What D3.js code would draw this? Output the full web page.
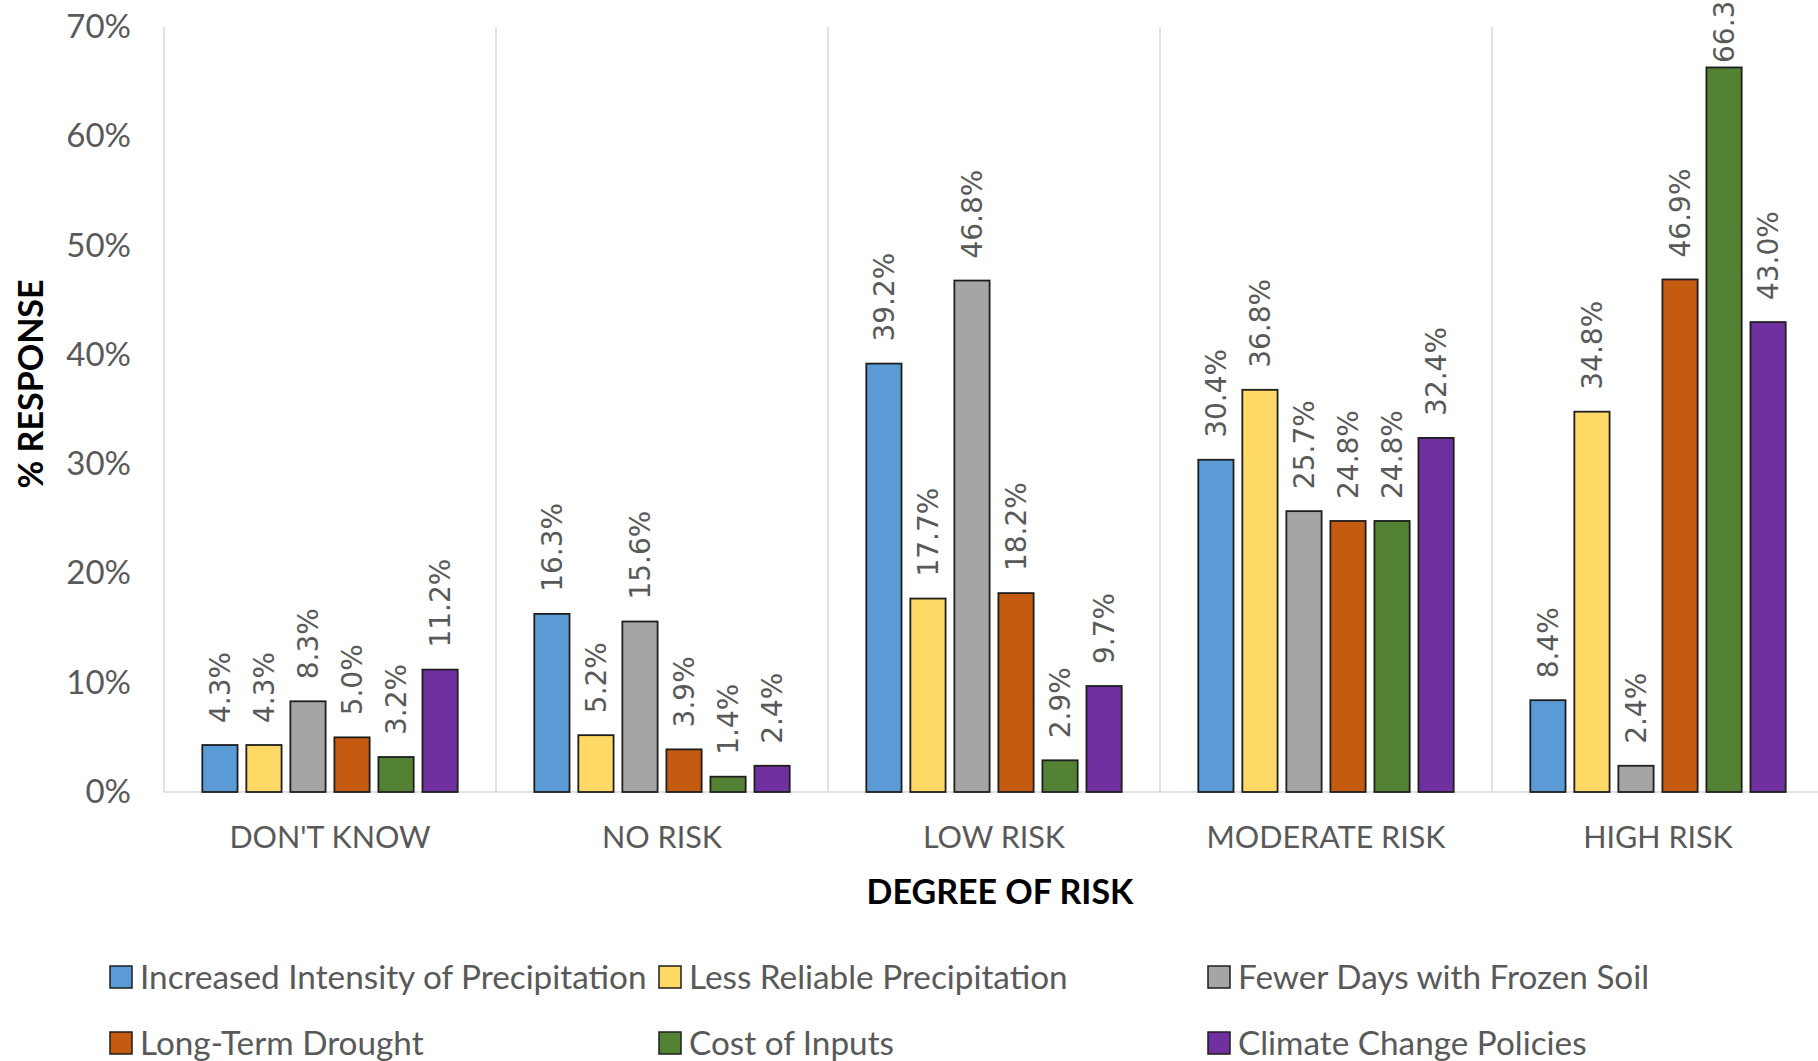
<!DOCTYPE html>
<html>
<head>
<meta charset="utf-8">
<script src="https://cdn.jsdelivr.net/npm/d3@7"></script>
<style>
  html, body { margin: 0; padding: 0; background: #fff; }
  svg { display: block; }
</style>
</head>
<body>
<svg id="chart" width="1818" height="1061"></svg>
<script>
// Categories along the x axis
const categories = ["DON'T KNOW", "NO RISK", "LOW RISK", "MODERATE RISK", "HIGH RISK"];

// Series names (legend order) and colours
const seriesNames = [
  "Increased Intensity of Precipitation",
  "Less Reliable Precipitation",
  "Fewer Days with Frozen Soil",
  "Long-Term Drought",
  "Cost of Inputs",
  "Climate Change Policies"
];
const seriesColors = ["#5B9BD5", "#FFD966", "#A5A5A5", "#C55A11", "#548235", "#7030A0"];

// % response per series, one value per category
const increasedIntensity = [4.3, 16.3, 39.2, 30.4, 8.4];
const lessReliable       = [4.3, 5.2, 17.7, 36.8, 34.8];
const fewerFrozenDays    = [8.3, 15.6, 46.8, 25.7, 2.4];
const longTermDrought    = [5.0, 3.9, 18.2, 24.8, 46.9];
const costOfInputs       = [3.2, 1.4, 2.9, 24.8, 66.3];
const climatePolicies    = [11.2, 2.4, 9.7, 32.4, 43.0];
const seriesValues = [increasedIntensity, lessReliable, fewerFrozenDays, longTermDrought, costOfInputs, climatePolicies];

// Y axis ticks
const yTicks = [0, 10, 20, 30, 40, 50, 60, 70];

const svg = d3.select("#chart");
const textFont = "Lato, 'Open Sans', sans-serif";
const labelFont = "'DejaVu Sans', Verdana, sans-serif";
const grey = "#595959";

const plot = { left: 164, right: 1824, top: 27, bottom: 792 };

const x0 = d3.scaleBand().domain(categories).range([plot.left, plot.right]).padding(0);
const x1 = d3.scaleBand().domain(seriesNames).range([0, x0.bandwidth()])
  .paddingInner(0.2).paddingOuter(0.87);
const y = d3.scaleLinear().domain([0, 70]).range([plot.bottom, plot.top]);

// Category separators (vertical lines spanning the plot)
const sepX = categories.map(c => x0(c)).concat([plot.right]);
svg.append("g").selectAll("line").data(sepX).join("line")
  .attr("x1", d => d).attr("x2", d => d)
  .attr("y1", y(70)).attr("y2", y(0))
  .attr("stroke", "#D9D9D9").attr("stroke-width", 1.5);

// Baseline
svg.append("line")
  .attr("x1", plot.left).attr("x2", plot.right)
  .attr("y1", y(0)).attr("y2", y(0))
  .attr("stroke", "#D9D9D9").attr("stroke-width", 1.5);

// Y axis tick labels
const yAxis = d3.axisLeft(y).tickValues(yTicks).tickFormat(d => d + "%").tickSize(0).tickPadding(0);
const yg = svg.append("g").attr("transform", "translate(131,0)").call(yAxis);
yg.select(".domain").remove();
yg.selectAll("text")
  .attr("fill", grey).style("font-family", textFont).style("font-size", "33px");

// X axis category labels
const xAxis = d3.axisBottom(x0).tickSize(0).tickPadding(0);
const xg = svg.append("g").attr("transform", "translate(0,837)").call(xAxis);
xg.select(".domain").remove();
xg.selectAll("text")
  .attr("dy", "0.35em")
  .attr("fill", grey).style("font-family", textFont).style("font-size", "30.5px");

// Bars and value labels
const cells = [];
seriesValues.forEach((vals, si) => {
  vals.forEach((v, ci) => cells.push({ series: seriesNames[si], color: seriesColors[si], cat: categories[ci], value: v }));
});

const barG = svg.append("g");
barG.selectAll("rect").data(cells).join("rect")
  .attr("x", d => x0(d.cat) + x1(d.series))
  .attr("y", d => y(d.value))
  .attr("width", x1.bandwidth())
  .attr("height", d => y(0) - y(d.value))
  .attr("fill", d => d.color)
  .attr("stroke", "#1e1e1e").attr("stroke-width", 1.8);

// Value labels sit above each bar, rotated; kept from running past the chart top
const labelGap = 22;
const labelTopLimit = -26;
const labels = svg.append("g").selectAll("text").data(cells).join("text")
  .text(d => d.value.toFixed(1) + "%")
  .attr("fill", grey)
  .style("font-family", labelFont).style("font-size", "28px")
  .attr("text-anchor", "start")
  .attr("dy", "0.36em");
labels.each(function(d) {
  const len = this.getComputedTextLength();
  const cx = x0(d.cat) + x1(d.series) + x1.bandwidth() / 2;
  const bottom = Math.max(y(d.value) - labelGap, labelTopLimit + len);
  d3.select(this).attr("transform", `translate(${cx},${bottom}) rotate(-90)`);
});

// Axis titles
svg.append("text")
  .attr("x", 1000).attr("y", 892).attr("dy", "0.35em")
  .attr("text-anchor", "middle")
  .style("font-family", textFont).style("font-size", "34px").style("font-weight", "bold")
  .attr("fill", "#000").text("DEGREE OF RISK");

svg.append("text")
  .attr("transform", "translate(31,384) rotate(-90)")
  .attr("dy", "0.35em")
  .attr("text-anchor", "middle")
  .style("font-family", textFont).style("font-size", "34px").style("font-weight", "bold")
  .attr("fill", "#000").text("% RESPONSE");

// Legend: 3 columns x 2 rows
const legendCols = [110, 659, 1208];
const legendRows = [977, 1043];
const legend = svg.append("g").selectAll("g").data(seriesNames).join("g")
  .attr("transform", (d, i) => `translate(${legendCols[i % 3]},${legendRows[Math.floor(i / 3)]})`);
legend.append("rect")
  .attr("x", 0).attr("y", -11).attr("width", 22).attr("height", 22)
  .attr("fill", (d, i) => seriesColors[i])
  .attr("stroke", "#1e1e1e").attr("stroke-width", 1.5);
legend.append("text")
  .attr("x", 30).attr("y", 0).attr("dy", "0.35em")
  .attr("fill", grey).style("font-family", textFont).style("font-size", "33.3px")
  .text(d => d);
</script>
</body>
</html>
